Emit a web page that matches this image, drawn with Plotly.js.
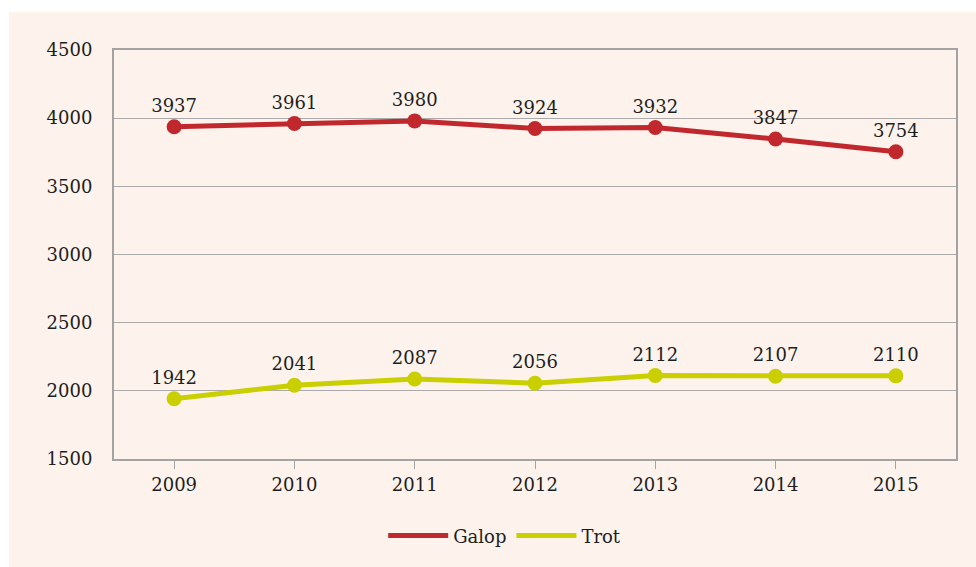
<!DOCTYPE html>
<html>
<head>
<meta charset="utf-8">
<script src="https://cdn.plot.ly/plotly-3.0.1.min.js"></script>
<style>
html,body{margin:0;padding:0;background:#ffffff;width:976px;height:567px;overflow:hidden;}
#chart{position:absolute;left:9px;top:12px;width:967px;height:555px;}
</style>
</head>
<body>
<div id="chart"></div>
<script>
const years = ['2009','2010','2011','2012','2013','2014','2015'];
const galop = [3937,3961,3980,3924,3932,3847,3754];
const trot = [1942,2041,2087,2056,2112,2107,2110];
const yTicks = [1500,2000,2500,3000,3500,4000,4500];

const galopColor = '#c1282e';
const trotColor = '#c9cf00';
const fontFam = 'DejaVu Serif, Liberation Serif, serif';

function lineTrace(name, y, color){
  return {x: years, y: y, name: name, type: 'scatter', mode: 'lines',
    line: {color: color, width: 5}, hoverinfo: 'skip'};
}
function markTrace(name, y, color){
  return {x: years, y: y, name: name, type: 'scatter', mode: 'markers+text',
    marker: {color: color, size: 15}, text: y.map(String), textposition: 'top center',
    textfont: {family: fontFam, size: 18, color: '#1e1e1e'}, showlegend: false, hoverinfo: 'skip'};
}

const data = [
  lineTrace('Galop', galop, galopColor),
  lineTrace('Trot', trot, trotColor),
  markTrace('Galop', galop, galopColor),
  markTrace('Trot', trot, trotColor)
];

const layout = {
  width: 967, height: 555,
  margin: {l: 105, r: 20, t: 38, b: 108},
  paper_bgcolor: '#fdf3ec',
  plot_bgcolor: '#fdf3ec',
  font: {family: fontFam, size: 18, color: '#1e1e1e'},
  showlegend: true,
  legend: {orientation: 'h', x: 0.464, xanchor: 'center', y: -0.188, yanchor: 'middle',
    font: {family: fontFam, size: 18, color: '#1e1e1e'}, itemwidth: 60, bgcolor: 'rgba(0,0,0,0)'},
  xaxis: {type: 'category', range: [-0.5, 6.5], showgrid: false, zeroline: false,
    showline: true, linecolor: '#a3a3a3', linewidth: 2, mirror: true,
    ticks: 'outside', ticklen: 8, tickcolor: '#a3a3a3', tickwidth: 1,
    tickfont: {family: fontFam, size: 18, color: '#1e1e1e'}},
  yaxis: {range: [1500, 4500], tickvals: yTicks, ticktext: yTicks.map(String),
    showgrid: true, gridcolor: '#aaaaaa', gridwidth: 1, zeroline: false,
    showline: true, linecolor: '#a3a3a3', linewidth: 2, mirror: true,
    ticks: '', ticklabelstandoff: 16,
    tickfont: {family: fontFam, size: 18, color: '#1e1e1e'}}
};

Plotly.newPlot('chart', data, layout, {staticPlot: true, displayModeBar: false});
</script>
</body>
</html>
